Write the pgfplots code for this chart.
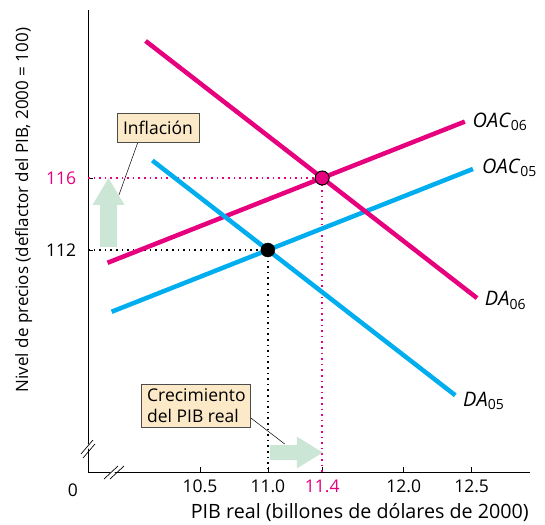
\documentclass[border=0pt]{standalone}
\usepackage{pgfplots}
\pgfplotsset{compat=1.18}
\usepackage{fontspec}
\setmainfont{Open Sans}
\definecolor{mag}{HTML}{E6007E}
\definecolor{cy}{HTML}{00AEEF}
\definecolor{grn}{HTML}{CCE6D6}
\definecolor{bx}{HTML}{FCE9C8}
\begin{document}
\fontsize{17}{20}\selectfont
\begin{tikzpicture}[x=1pt,y=1pt]
\begin{axis}[
  at={(0,0)}, anchor=south west,
  scale only axis, width=442pt, height=462pt,
  xmin=9.676, xmax=12.93, ymin=99.67, ymax=125.33,
  axis lines=left, axis line style={-, line width=0.8pt},
  xtick={10.5,11,11.4,12,12.5},
  xticklabels={10.5,11.0,\textcolor{mag}{11.4},12.0,12.5},
  ytick={112,116},
  yticklabels={112,\textcolor{mag}{116}},
  tick align=inside, major tick length=5pt,
  tick style={line width=0.6pt, black},
  tick label style={font=\fontsize{17.5}{20}\selectfont},
  xticklabel style={yshift=-2pt},
  yticklabel style={xshift=-6pt},
  clip=false,
  xlabel={PIB real (billones de dólares de 2000)},
  ylabel={Nivel de precios (deflactor del PIB, 2000 = 100)},
  every axis x label/.style={at={(rel axis cs:0.615,0)}, anchor=north, yshift=-26pt, font=\fontsize{19.7}{22}\selectfont},
  every axis y label/.style={at={(rel axis cs:0,0.567)}, anchor=south, rotate=90, yshift=50pt, font=\fontsize{17}{20}\selectfont},
]
% dotted guides
\addplot[black, line width=1.6pt, dash pattern=on 1.6pt off 4pt] coordinates {(9.676,112) (11,112) (11,99.67)};
\addplot[mag, line width=1.6pt, dash pattern=on 1.6pt off 4pt] coordinates {(9.676,116) (11.4,116) (11.4,99.67)};
% curves
\addplot[cy, line width=4.5pt] coordinates {(9.85,108.57) (12.51,116.50)};
\addplot[mag, line width=4.5pt] coordinates {(9.82,111.29) (12.45,119.13)};
\addplot[cy, line width=4.5pt] coordinates {(10.15,116.97) (12.38,103.93)};
\addplot[mag, line width=4.5pt] coordinates {(10.10,123.61) (12.54,109.33)};
% equilibrium points
\addplot[only marks, mark=*, mark size=7pt, mark options={fill=black, draw=black}] coordinates {(11,112)};
\addplot[only marks, mark=*, mark size=7pt, mark options={fill=mag, draw=black, line width=1pt}] coordinates {(11.4,116)};
% arrows
\fill[grn] (axis cs:9.7645,112.17) -- (axis cs:9.7645,114.5) -- (axis cs:9.709,114.5) -- (axis cs:9.827,116) -- (axis cs:9.945,114.5) -- (axis cs:9.8895,114.5) -- (axis cs:9.8895,112.17) -- cycle;
\fill[grn] (axis cs:11.015,100.333) -- (axis cs:11.213,100.333) -- (axis cs:11.213,99.861) -- (axis cs:11.404,100.75) -- (axis cs:11.213,101.639) -- (axis cs:11.213,101.167) -- (axis cs:11.015,101.167) -- cycle;
% connectors
\draw[black, line width=0.5pt] (axis cs:10.044,118.0) -- (axis cs:9.904,115.06);
\draw[black, line width=0.5pt] (axis cs:10.875,102.67) -- (axis cs:11.125,101.22);
% boxes
\node[draw=black!70, fill=bx, line width=0.8pt, inner sep=3pt, minimum width=82pt, minimum height=29pt, font=\fontsize{17.5}{20}\selectfont] at (axis cs:10.191,118.8) {Inflación};
\node[draw=black!70, fill=bx, line width=0.8pt, inner sep=3pt, align=left, minimum width=109pt, minimum height=43pt, font=\fontsize{17.5}{21}\selectfont] at (axis cs:10.474,103.36) {Crecimiento\\del PIB real};
% curve labels
\node[anchor=west, font=\fontsize{20}{22}\selectfont] at (axis cs:12.465,119.1) {\textit{OAC}\textsubscript{06}};
\node[anchor=west, font=\fontsize{20}{22}\selectfont] at (axis cs:12.535,116.55) {\textit{OAC}\textsubscript{05}};
\node[anchor=west, font=\fontsize{20}{22}\selectfont] at (axis cs:12.555,109.2) {\textit{DA}\textsubscript{06}};
\node[anchor=west, font=\fontsize{20}{22}\selectfont] at (axis cs:12.395,103.6) {\textit{DA}\textsubscript{05}};
\end{axis}
% origin label and axis breaks
\node[font=\fontsize{17.5}{20}\selectfont] at (-15pt,-18pt) {0};
\draw[white, line width=3pt] (-5pt,20pt) -- (5pt,30pt);
\draw[black, line width=0.7pt] (-7pt,18pt) -- (5pt,32pt);
\draw[black, line width=0.7pt] (-5pt,14pt) -- (7pt,28pt);
\draw[white, line width=3pt] (20pt,-5pt) -- (30pt,5pt);
\draw[black, line width=0.7pt] (16pt,-7pt) -- (30pt,6pt);
\draw[black, line width=0.7pt] (22pt,-7pt) -- (36pt,6pt);
\pgfresetboundingbox
\path (-88pt,-52pt) rectangle (457pt,472pt);
\end{tikzpicture}
\end{document}
